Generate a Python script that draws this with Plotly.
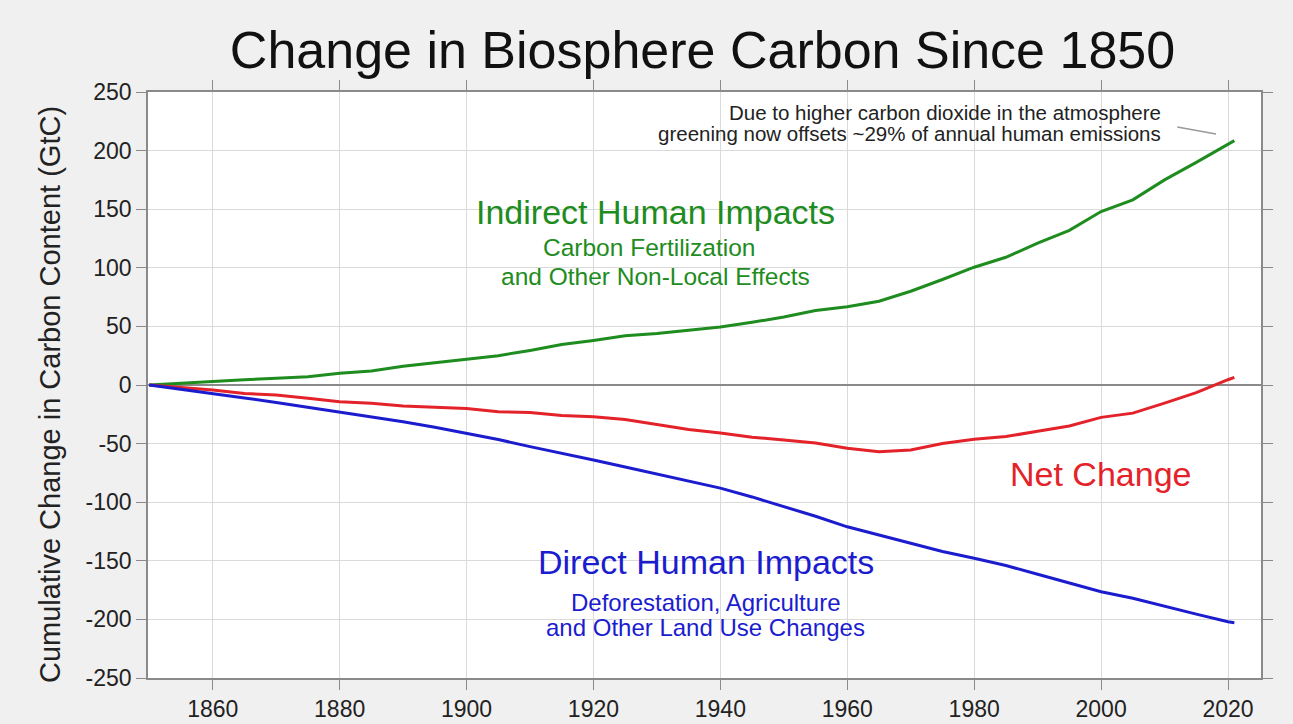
import plotly.graph_objects as go

years = [1850, 1855, 1860, 1865, 1870, 1875, 1880, 1885, 1890, 1895, 1900, 1905,
         1910, 1915, 1920, 1925, 1930, 1935, 1940, 1945, 1950, 1955, 1960, 1965,
         1970, 1975, 1980, 1985, 1990, 1995, 2000, 2005, 2010, 2015, 2020, 2021]

indirect = [0, 1.5, 3.5, 4.5, 5.7, 7, 10, 12, 16, 19, 22, 25,
            29.5, 34.5, 38, 42, 44, 46.5, 49.5, 53.5, 58, 63.5, 66.8, 71.5,
            80, 90, 100.5, 109, 121, 132, 148, 158, 175, 190, 206, 208.5]

net = [0, -2, -4.3, -7.3, -8.5, -11.4, -14.2, -15.6, -17.9, -19, -20, -22.8,
       -23.5, -26, -27, -29.5, -34, -38, -41, -44.5, -47, -49.5, -54, -56.9,
       -55.5, -50, -46.3, -44, -39.5, -35, -27.6, -24, -15.5, -6.5, 4.5, 6.5]

direct = [0, -3.5, -7.1, -11, -15, -19, -22.8, -27, -31.3, -36, -41.2, -46.5,
          -52.6, -58, -64, -70, -76, -82, -88, -95.5, -103.8, -112, -121, -128,
          -135.5, -142, -147.9, -154, -161.5, -169, -176.4, -182, -189, -195.5, -202, -202.8]

x_ticks = [1860, 1880, 1900, 1920, 1940, 1960, 1980, 2000, 2020]
y_ticks = [-250, -200, -150, -100, -50, 0, 50, 100, 150, 200, 250]
y_tick_labels = ["-250", "-200", "-150", "-100", "-50", "0", "50", "100", "150", "200", "250"]

FONT = "Arial, Liberation Sans, sans-serif"
GREEN = "#1e8c1e"
RED = "#e3222a"
BLUE = "#1c1ccf"

fig = go.Figure()
fig.add_trace(go.Scatter(x=years, y=indirect, mode="lines",
                         line=dict(color=GREEN, width=3), showlegend=False))
fig.add_trace(go.Scatter(x=years, y=net, mode="lines",
                         line=dict(color=RED, width=3), showlegend=False))
fig.add_trace(go.Scatter(x=years, y=direct, mode="lines",
                         line=dict(color=BLUE, width=3), showlegend=False))

axis_common = dict(
    showline=True, mirror="ticks", linecolor="#8a8a8a", linewidth=1.5,
    ticks="outside", ticklen=10, tickcolor="#8a8a8a", tickwidth=1.2,
    showgrid=True, gridcolor="#dadada", gridwidth=1, automargin=False,
    tickfont=dict(family=FONT, size=23, color="#222222"),
)

fig.update_xaxes(range=[1849.8, 2025.2], tickvals=x_ticks,
                 ticktext=[str(v) for v in x_ticks],
                 zeroline=False, **axis_common)
fig.update_yaxes(range=[-250, 250], tickvals=y_ticks, ticktext=y_tick_labels,
                 zeroline=True, zerolinecolor="#8a8a8a", zerolinewidth=2,
                 **axis_common)

ann = []
def txt(x, y, text, size, color, xanchor="center"):
    ann.append(dict(x=x, y=y, xref="x", yref="y", text=text, showarrow=False,
                    xanchor=xanchor, yanchor="middle",
                    font=dict(family=FONT, size=size, color=color)))

txt(1929.7, 147.6, "Indirect Human Impacts", 34, GREEN)
txt(1928.8, 116.9, "Carbon Fertilization", 24.5, GREEN)
txt(1929.7, 93.0, "and Other Non-Local Effects", 24.5, GREEN)
txt(1999.9, -75.9, "Net Change", 34, RED)
txt(1937.7, -151.0, "Direct Human Impacts", 34, BLUE)
txt(1937.7, -185.2, "Deforestation, Agriculture", 24, BLUE)
txt(1937.6, -207.3, "and Other Land Use Changes", 24, BLUE)
txt(2009.8, 232.9, "Due to higher carbon dioxide in the atmosphere", 20.5, "#222222", "right")
txt(2009.8, 214.2, "greening now offsets ~29% of annual human emissions", 20.5, "#222222", "right")

ann.append(dict(x=-0.088, y=0.483, xref="paper", yref="paper",
                text="Cumulative Change in Carbon Content (GtC)", textangle=-90,
                showarrow=False, xanchor="center", yanchor="middle",
                font=dict(family=FONT, size=29, color="#222222")))

fig.update_layout(
    width=1293, height=724, autosize=False,
    margin=dict(l=148, r=32, t=92, b=46, autoexpand=False),
    paper_bgcolor="#f0f0f0", plot_bgcolor="#ffffff",
    title=dict(text="Change in Biosphere Carbon Since 1850",
               x=702.5 / 1293, xanchor="center", y=1 - 50 / 724, yanchor="middle",
               font=dict(family=FONT, size=52, color="#111111")),
    annotations=ann,
    shapes=[dict(type="line", xref="x", yref="y", x0=2012.0, y0=220.1,
                 x1=2018.1, y1=214.2, line=dict(color="#9a9a9a", width=1.5))],
)

fig.write_html("out.html", config={"displayModeBar": False},
               post_script="document.body.style.margin='0px';document.body.style.overflow='hidden';")
